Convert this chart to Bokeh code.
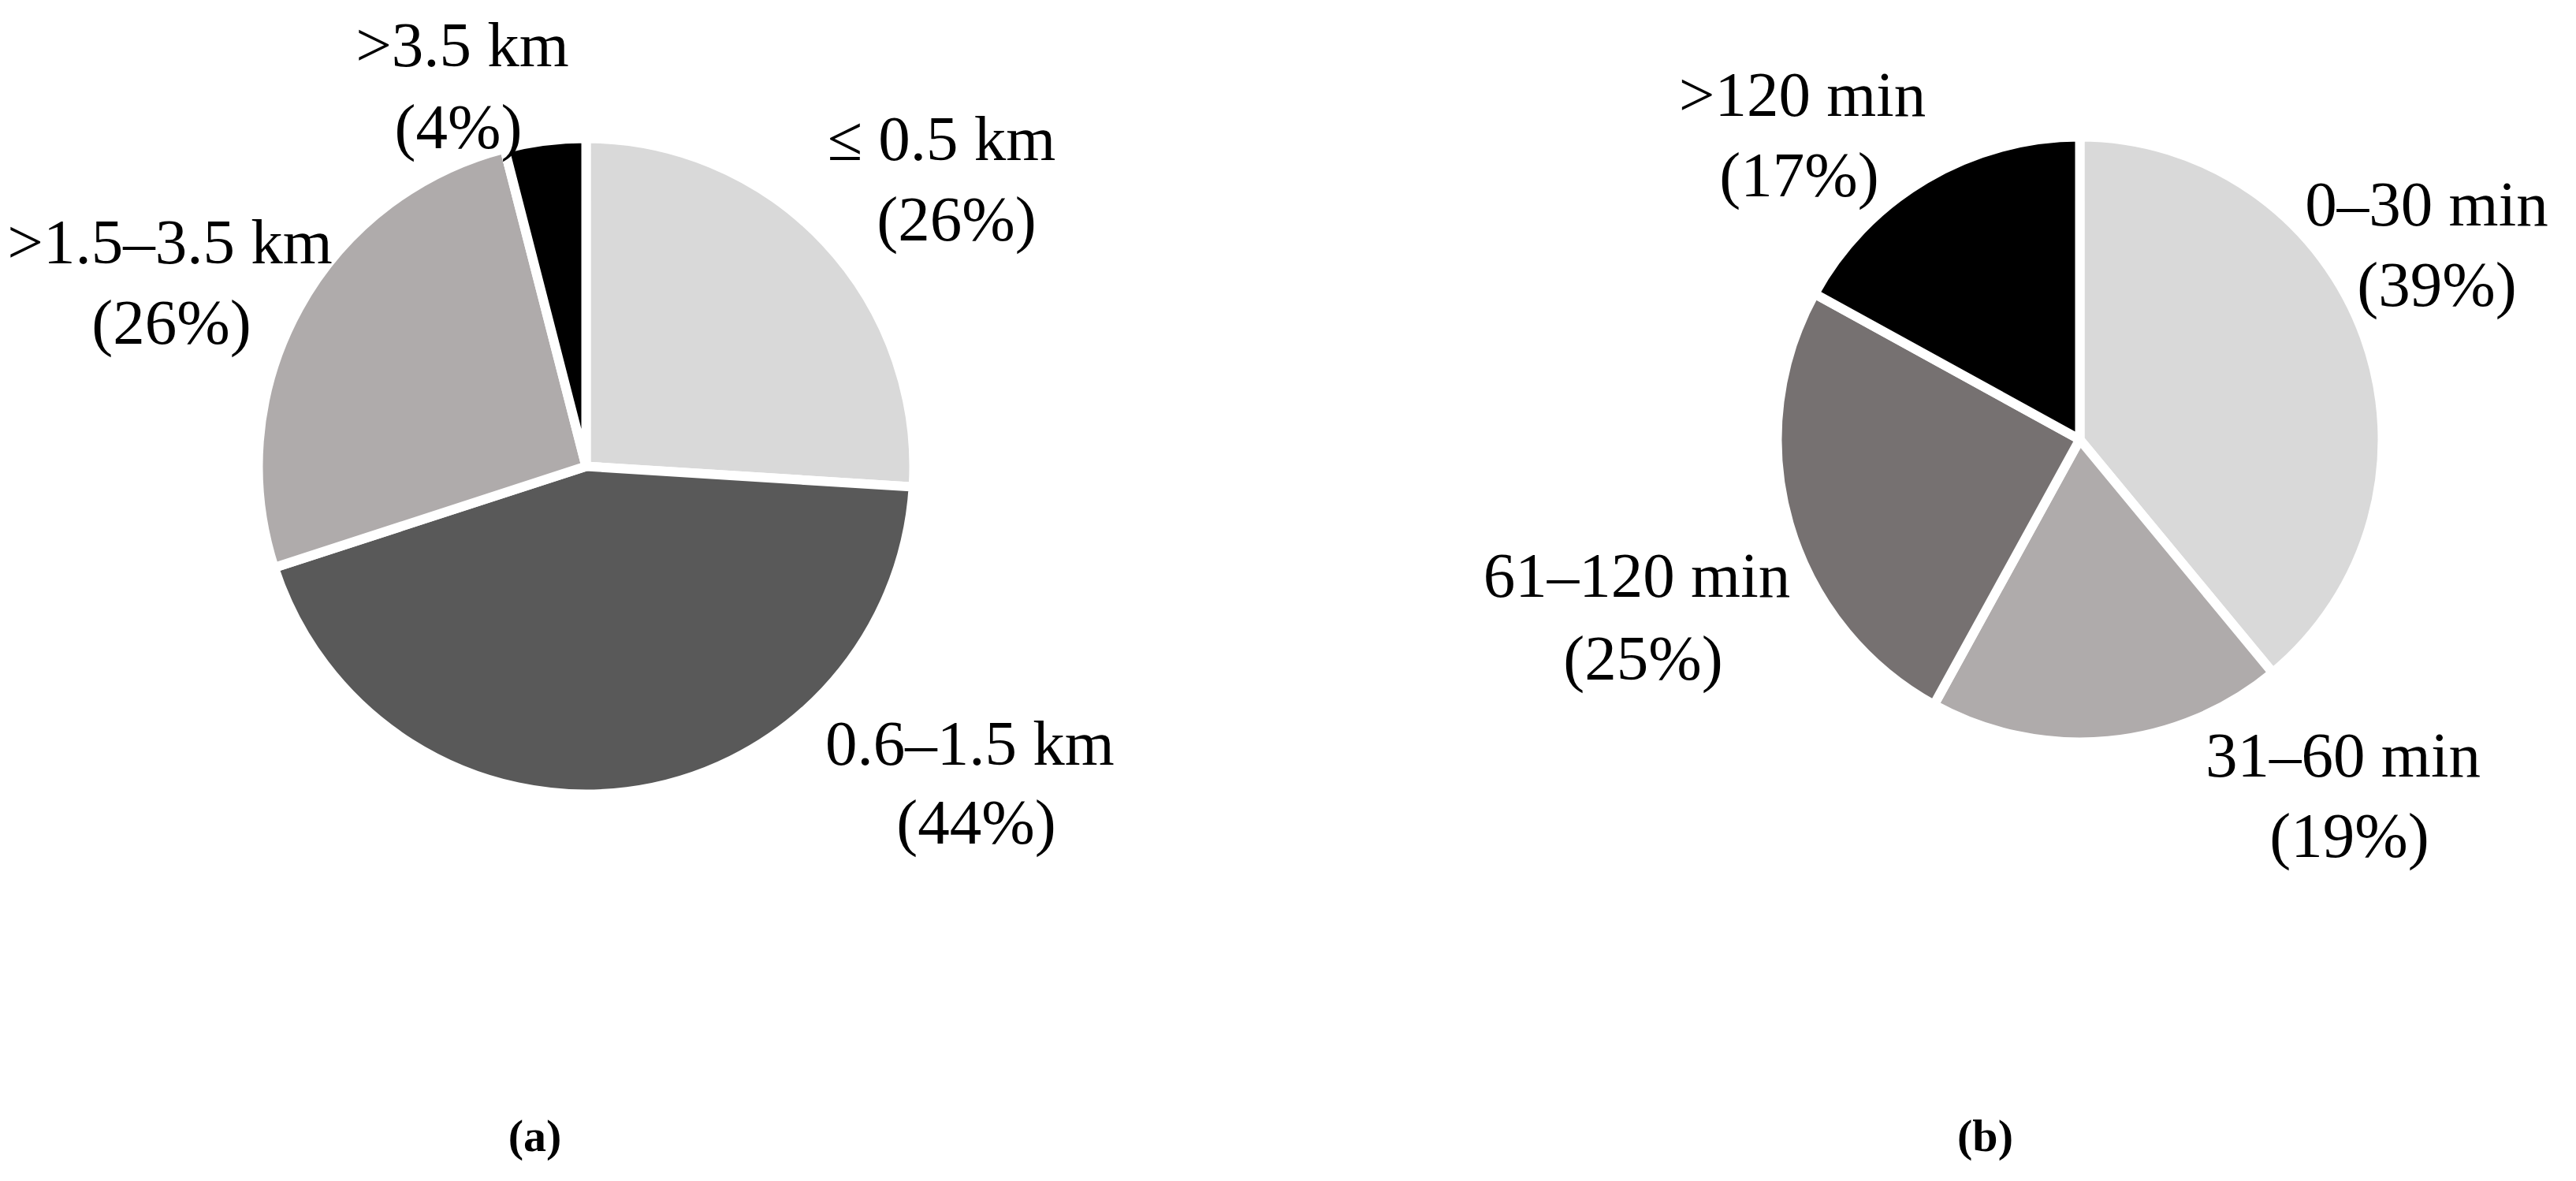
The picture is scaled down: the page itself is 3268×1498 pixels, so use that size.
from bokeh.plotting import figure
from bokeh.models import Range1d, ColumnDataSource
from bokeh.embed import file_html
from bokeh.resources import INLINE
from bokeh.core.properties import value
import math

# ---- data ----
dist_labels = ["\u2264 0.5 km", "0.6\u20131.5 km", ">1.5\u20133.5 km", ">3.5 km"]
dist_values = [26, 44, 26, 4]
time_labels = ["0\u201330 min", "31\u201360 min", "61\u2013120 min", ">120 min"]
time_values = [39, 19, 25, 17]
captions = ["(a)", "(b)"]

dist_colors = ["#d9d9d9", "#595959", "#afabab", "#000000"]
time_colors = ["#d9d9d9", "#afabab", "#767171", "#000000"]

W, H = 3252, 1482
FONT = "Liberation Serif"
OFF = 0  # page offset of the figure

p = figure(width=W, height=H, x_range=Range1d(OFF, OFF + W), y_range=Range1d(0, H),
           output_backend="svg", toolbar_location=None, min_border=0)
p.axis.visible = False
p.grid.visible = False
p.outline_line_color = None
p.background_fill_color = "white"


def Y(ry):
    return H + OFF - ry


def draw_pie(cx, cy, r, vals, colors):
    total = float(sum(vals))
    starts, ends = [], []
    cum = 0.0
    for v in vals:
        starts.append(math.pi / 2 - 2 * math.pi * cum / total)
        cum += v
        ends.append(math.pi / 2 - 2 * math.pi * cum / total)
    src = ColumnDataSource(dict(x=[cx] * len(vals), y=[Y(cy)] * len(vals),
                                s=starts, e=ends, c=colors))
    p.wedge(x="x", y="y", radius=r, start_angle="s", end_angle="e", direction="clock",
            fill_color="c", line_color="white", line_width=12, source=src)


draw_pie(743, 591, 416, dist_values, dist_colors)
draw_pie(2638, 557, 384, time_values, time_colors)

# label positions (reference pixel coords): name line, percent line
dist_pos = [((1194, 175), (1213, 277)), ((1230, 942), (1238, 1042)),
            ((215, 306), (217, 408)), ((586, 56), (581, 160))]
time_pos = [((3078, 258), (3091, 360)), ((2972, 957), (2980, 1059)),
            ((2076, 729), (2084, 834)), ((2286, 119), (2282, 221))]

xs, ys, txt = [], [], []
for labs, vals, pos in [(dist_labels, dist_values, dist_pos), (time_labels, time_values, time_pos)]:
    for lab, v, (a, b) in zip(labs, vals, pos):
        xs += [a[0], b[0]]
        ys += [Y(a[1]), Y(b[1])]
        txt += [lab, "(%d%%)" % v]

p.text(x=xs, y=ys, text=txt, text_font=value(FONT), text_font_size="81px",
       text_align="center", text_baseline="middle", text_color="black")

p.text(x=[678, 2518], y=[Y(1440), Y(1440)], text=captions, text_font=value(FONT),
       text_font_size="58px", text_font_style="bold", text_align="center",
       text_baseline="middle", text_color="black")

open("out.html", "w").write(file_html(p, INLINE))
